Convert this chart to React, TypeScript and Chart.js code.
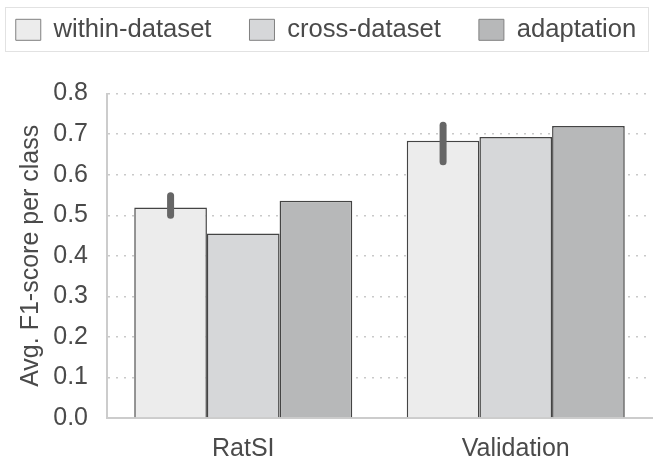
import React, { useEffect, useRef } from 'react';
import { Chart, registerables } from 'chart.js';

Chart.register(...registerables);

const categories = ['RatSI', 'Validation'];
const seriesLabels = ['within-dataset', 'cross-dataset', 'adaptation'];
const withinValues = [0.519, 0.684];
const crossValues = [0.455, 0.693];
const adaptationValues = [0.536, 0.72];
const withinErrLow = [0.5, 0.632];
const withinErrHigh = [0.548, 0.722];
const yTickValues = [0, 0.1, 0.2, 0.3, 0.4, 0.5, 0.6, 0.7, 0.8];
const seriesColors = ['#ececec', '#d6d7d9', '#b7b8b9'];

const FONT = "'Liberation Sans', Arial, sans-serif";
const TEXT = '#4a4a4a';

const errorBarPlugin = {
  id: 'errorBars',
  afterDatasetsDraw(chart: any) {
    const meta = chart.getDatasetMeta(0);
    const yScale = chart.scales.y;
    const ctx = chart.ctx;
    ctx.save();
    ctx.strokeStyle = '#666666';
    ctx.lineWidth = 7;
    ctx.lineCap = 'round';
    meta.data.forEach((el: any, i: number) => {
      ctx.beginPath();
      ctx.moveTo(el.x, yScale.getPixelForValue(withinErrLow[i]));
      ctx.lineTo(el.x, yScale.getPixelForValue(withinErrHigh[i]));
      ctx.stroke();
    });
    ctx.restore();
  },
};

const legendFramePlugin = {
  id: 'legendFrame',
  beforeInit(chart: any) {
    const legend = chart.legend;
    if (!legend) return;
    const origFit = legend.fit;
    legend.fit = function () {
      const mw = this.maxWidth;
      this.maxWidth = 4000;
      origFit.call(this);
      this.maxWidth = mw;
      this.width = Math.min(this.width, mw);
      this.height += 41;
    };
    const origDraw = legend.draw;
    legend.draw = function () {
      const l = this.left;
      const r = this.right;
      this.left = l - 200;
      this.right = r + 200;
      origDraw.call(this);
      this.left = l;
      this.right = r;
    };
  },
  afterDraw(chart: any) {
    const legend = chart.legend;
    if (!legend || !legend.legendHitBoxes || !legend.legendHitBoxes.length) return;
    const hb = legend.legendHitBoxes;
    const first = hb[0];
    const last = hb[hb.length - 1];
    const ctx = chart.ctx;
    ctx.save();
    ctx.strokeStyle = '#e2e2e2';
    ctx.lineWidth = 1;
    const l = Math.round(first.left - 10.5) + 0.5;
    const r = Math.round(last.left + last.width + 11.5) + 0.5;
    const t = Math.round(first.top - 10) + 0.5;
    const b = Math.round(first.top + first.height + 8) + 0.5;
    ctx.strokeRect(l, t, r - l, b - t);
    ctx.restore();
  },
};

export default function App() {
  const canvasRef = useRef<HTMLCanvasElement | null>(null);

  useEffect(() => {
    if (!canvasRef.current) return;
    const values = [withinValues, crossValues, adaptationValues];
    const chart = new Chart(canvasRef.current, {
      type: 'bar',
      data: {
        labels: categories,
        datasets: seriesLabels.map((label, i) => ({
          label,
          data: values[i],
          backgroundColor: seriesColors[i],
          borderColor: '#444444',
          borderWidth: 1.5,
          categoryPercentage: 0.8,
          barPercentage: 1.0,
        })),
      },
      options: {
        responsive: false,
        animation: false,
        devicePixelRatio: 1,
        layout: { padding: { top: -21, left: 0, right: 4, bottom: 0 } },
        plugins: {
          tooltip: { enabled: false },
          legend: {
            position: 'top',
            align: 'center',
            labels: {
              font: { family: FONT, size: 25.6 },
              color: TEXT,
              boxWidth: 25,
              boxHeight: 21,
              padding: 38,
              generateLabels: (c: any) =>
                Chart.defaults.plugins.legend.labels
                  .generateLabels(c)
                  .map((it: any) => ({ ...it, strokeStyle: '#808080', lineWidth: 1 })),
            },
          },
        },
        scales: {
          x: {
            grid: { display: false, drawTicks: false },
            border: { display: true, color: '#cccccc', width: 2 },
            ticks: { font: { family: FONT, size: 25 }, color: TEXT, padding: 16 },
            afterFit: (s: any) => {
              s.height = 42;
            },
          },
          y: {
            min: 0,
            max: 0.8,
            afterBuildTicks: (s: any) => {
              s.ticks = yTickValues.map((v) => ({ value: v }));
            },
            grid: { color: '#c9c9c9', lineWidth: 1.5, drawTicks: false },
            border: { display: true, color: '#cccccc', width: 2, dash: [2, 6] },
            ticks: {
              font: { family: FONT, size: 25 },
              color: TEXT,
              padding: 19,
              callback: (v: any) => Number(v).toFixed(1),
            },
            title: {
              display: true,
              text: 'Avg. F1-score per class',
              font: { family: FONT, size: 25 },
              color: TEXT,
              padding: { top: 16, bottom: 0 },
            },
            afterFit: (s: any) => {
              s.width = 107;
            },
          },
        },
      },
      plugins: [errorBarPlugin, legendFramePlugin],
    } as any);
    return () => chart.destroy();
  }, []);

  return (
    <div style={{ position: 'fixed', left: 0, top: 0, width: 656, height: 460, background: '#fff' }}>
      <canvas ref={canvasRef} width={656} height={460} style={{ display: 'block' }} />
    </div>
  );
}
